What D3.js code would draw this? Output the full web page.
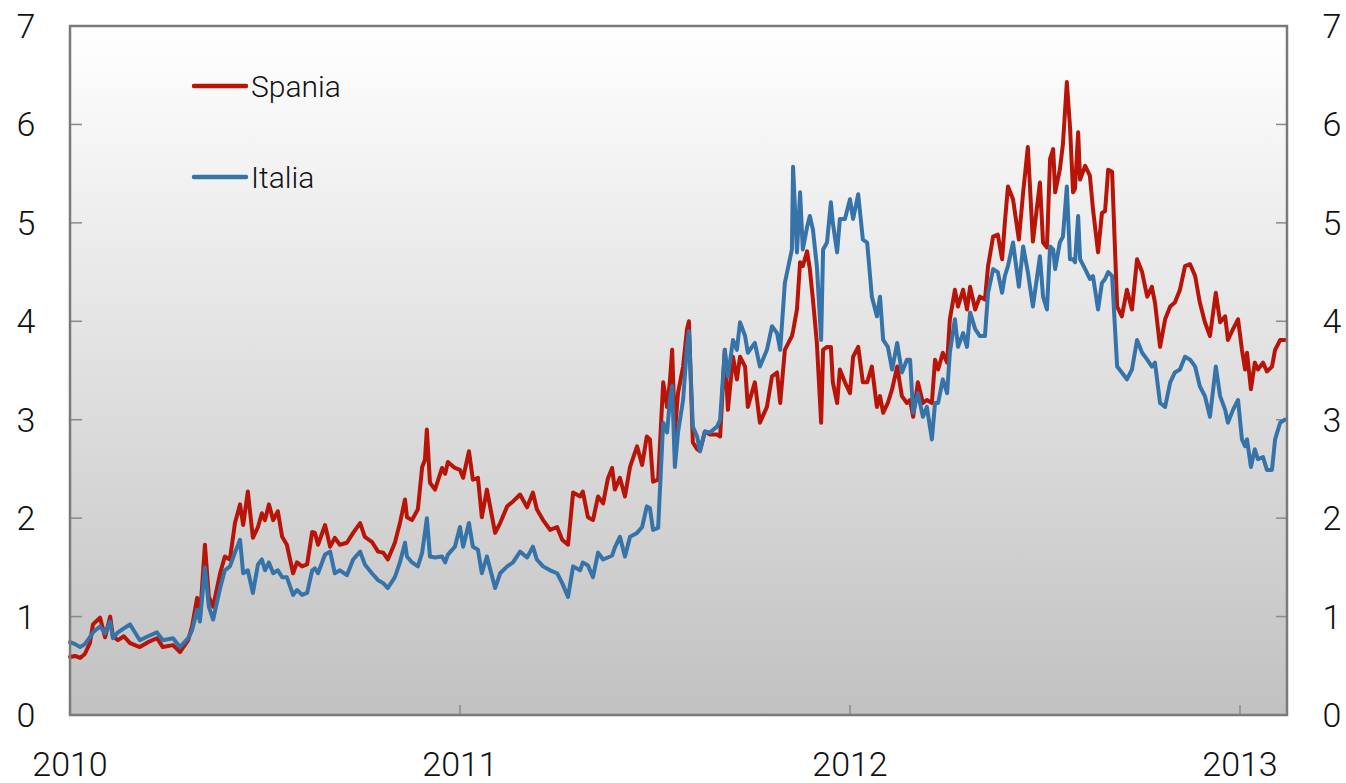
<!DOCTYPE html>
<html>
<head>
<meta charset="utf-8">
<script src="https://cdn.jsdelivr.net/npm/d3@7"></script>
<style>
  html, body { margin: 0; padding: 0; background: #fff; }
  svg { display: block; }
  text { font-family: Roboto, "Liberation Sans", sans-serif; font-weight: 300; fill: #111; }
</style>
</head>
<body>
<svg id="chart" width="1346" height="783"></svg>
<script>
// time as decimal year
const times = [
  2010.000, 2010.013, 2010.026, 2010.038, 2010.051, 2010.059, 2010.077, 2010.090, 2010.103, 2010.110,
  2010.123, 2010.138, 2010.154, 2010.179, 2010.200, 2010.223, 2010.238, 2010.264, 2010.282, 2010.303,
  2010.313, 2010.326, 2010.333, 2010.346, 2010.356, 2010.367, 2010.385, 2010.397, 2010.410, 2010.423,
  2010.436, 2010.444, 2010.456, 2010.469, 2010.482, 2010.492, 2010.500, 2010.510, 2010.521, 2010.533,
  2010.544, 2010.556, 2010.572, 2010.582, 2010.595, 2010.608, 2010.621, 2010.628, 2010.636, 2010.654,
  2010.667, 2010.679, 2010.692, 2010.710, 2010.726, 2010.744, 2010.756, 2010.774, 2010.790, 2010.803,
  2010.815, 2010.833, 2010.846, 2010.859, 2010.864, 2010.877, 2010.892, 2010.903, 2010.910, 2010.915,
  2010.923, 2010.936, 2010.954, 2010.962, 2010.969, 2010.987, 2011.000, 2011.008, 2011.023, 2011.033,
  2011.046, 2011.056, 2011.069, 2011.090, 2011.103, 2011.121, 2011.136, 2011.154, 2011.172, 2011.187,
  2011.197, 2011.213, 2011.231, 2011.249, 2011.262, 2011.277, 2011.290, 2011.308, 2011.315, 2011.328,
  2011.341, 2011.354, 2011.367, 2011.379, 2011.390, 2011.397, 2011.410, 2011.423, 2011.436, 2011.454,
  2011.467, 2011.479, 2011.487, 2011.495, 2011.508, 2011.521, 2011.531, 2011.538, 2011.544, 2011.551,
  2011.559, 2011.572, 2011.582, 2011.587, 2011.597, 2011.608, 2011.615, 2011.628, 2011.641, 2011.659,
  2011.667, 2011.679, 2011.687, 2011.700, 2011.710, 2011.718, 2011.731, 2011.738, 2011.756, 2011.769,
  2011.787, 2011.800, 2011.813, 2011.821, 2011.833, 2011.851, 2011.854, 2011.864, 2011.872, 2011.879,
  2011.890, 2011.897, 2011.905, 2011.915, 2011.926, 2011.931, 2011.941, 2011.951, 2011.956, 2011.967,
  2011.974, 2011.987, 2012.000, 2012.008, 2012.021, 2012.033, 2012.044, 2012.056, 2012.069, 2012.077,
  2012.085, 2012.097, 2012.108, 2012.121, 2012.133, 2012.146, 2012.154, 2012.162, 2012.174, 2012.187,
  2012.197, 2012.210, 2012.218, 2012.226, 2012.238, 2012.249, 2012.256, 2012.269, 2012.277, 2012.290,
  2012.300, 2012.308, 2012.321, 2012.333, 2012.346, 2012.354, 2012.367, 2012.379, 2012.390, 2012.397,
  2012.405, 2012.418, 2012.433, 2012.444, 2012.456, 2012.469, 2012.487, 2012.495, 2012.505, 2012.513,
  2012.521, 2012.526, 2012.538, 2012.546, 2012.556, 2012.564, 2012.572, 2012.577, 2012.585, 2012.590,
  2012.603, 2012.615, 2012.623, 2012.636, 2012.646, 2012.654, 2012.662, 2012.672, 2012.685, 2012.697,
  2012.710, 2012.723, 2012.736, 2012.749, 2012.762, 2012.774, 2012.782, 2012.795, 2012.808, 2012.821,
  2012.833, 2012.846, 2012.859, 2012.872, 2012.885, 2012.897, 2012.910, 2012.923, 2012.938, 2012.949,
  2012.962, 2012.969, 2012.982, 2012.995, 2013.005, 2013.013, 2013.018, 2013.028, 2013.038, 2013.046,
  2013.059, 2013.069, 2013.082, 2013.090, 2013.103, 2013.115
];

const spania = [
  0.59, 0.60, 0.58, 0.62, 0.73, 0.92, 0.99, 0.79, 1.00, 0.80,
  0.76, 0.80, 0.73, 0.69, 0.74, 0.78, 0.69, 0.71, 0.64, 0.76,
  0.90, 1.19, 0.98, 1.73, 1.20, 1.10, 1.44, 1.61, 1.58, 1.95,
  2.14, 1.93, 2.27, 1.80, 1.91, 2.05, 1.98, 2.14, 1.98, 2.07,
  1.81, 1.73, 1.44, 1.55, 1.51, 1.53, 1.86, 1.85, 1.73, 1.93,
  1.71, 1.80, 1.73, 1.75, 1.85, 1.95, 1.81, 1.76, 1.66, 1.65,
  1.58, 1.75, 1.95, 2.19, 2.01, 1.98, 2.09, 2.52, 2.59, 2.90,
  2.36, 2.29, 2.51, 2.45, 2.57, 2.51, 2.49, 2.41, 2.68, 2.39,
  2.41, 2.01, 2.29, 1.85, 1.95, 2.12, 2.17, 2.24, 2.11, 2.26,
  2.09, 1.98, 1.88, 1.91, 1.78, 1.73, 2.26, 2.22, 2.27, 2.01,
  1.98, 2.22, 2.15, 2.40, 2.51, 2.29, 2.41, 2.22, 2.52, 2.73,
  2.54, 2.83, 2.80, 2.37, 2.39, 3.38, 3.13, 3.38, 3.71, 2.87,
  3.27, 3.54, 3.92, 4.00, 2.77, 2.70, 2.68, 2.88, 2.85, 2.85,
  2.83, 3.71, 3.10, 3.64, 3.41, 3.64, 3.54, 3.13, 3.38, 2.97,
  3.13, 3.44, 3.48, 3.17, 3.71, 3.85, 3.90, 4.12, 4.60, 4.56,
  4.71, 4.53, 4.22, 3.78, 2.97, 3.71, 3.74, 3.74, 3.38, 3.17,
  3.51, 3.38, 3.27, 3.64, 3.74, 3.38, 3.38, 3.54, 3.13, 3.24,
  3.07, 3.17, 3.31, 3.54, 3.24, 3.17, 3.20, 3.03, 3.38, 3.17,
  3.20, 3.17, 3.61, 3.51, 3.68, 3.58, 4.02, 4.32, 4.15, 4.32,
  4.12, 4.35, 4.12, 4.25, 4.22, 4.56, 4.86, 4.88, 4.63, 5.00,
  5.37, 5.24, 4.83, 5.31, 5.77, 4.81, 5.41, 4.80, 4.75, 5.65,
  5.75, 5.31, 5.54, 5.80, 6.43, 5.98, 5.31, 5.35, 5.92, 5.44,
  5.58, 5.48, 5.14, 4.70, 5.10, 5.12, 5.54, 5.52, 4.15, 4.05,
  4.32, 4.12, 4.63, 4.50, 4.25, 4.35, 4.19, 3.74, 4.02, 4.15,
  4.19, 4.32, 4.56, 4.58, 4.46, 4.19, 3.99, 3.85, 4.29, 3.99,
  4.05, 3.81, 3.92, 4.02, 3.71, 3.51, 3.68, 3.31, 3.58, 3.51,
  3.58, 3.49, 3.54, 3.71, 3.81, 3.81
];

const italia = [
  0.74, 0.72, 0.69, 0.72, 0.79, 0.84, 0.90, 0.83, 0.95, 0.78,
  0.84, 0.88, 0.92, 0.76, 0.80, 0.84, 0.76, 0.78, 0.69, 0.78,
  0.86, 1.07, 0.95, 1.50, 1.10, 0.97, 1.29, 1.47, 1.51, 1.65,
  1.78, 1.44, 1.47, 1.24, 1.53, 1.58, 1.47, 1.55, 1.44, 1.47,
  1.40, 1.40, 1.22, 1.27, 1.22, 1.24, 1.47, 1.49, 1.44, 1.63,
  1.66, 1.44, 1.47, 1.42, 1.58, 1.66, 1.53, 1.44, 1.37, 1.34,
  1.29, 1.40, 1.55, 1.75, 1.61, 1.55, 1.51, 1.65, 1.85, 2.00,
  1.61, 1.60, 1.61, 1.55, 1.63, 1.71, 1.91, 1.71, 1.95, 1.71,
  1.68, 1.44, 1.61, 1.29, 1.44, 1.51, 1.55, 1.66, 1.60, 1.71,
  1.58, 1.51, 1.47, 1.44, 1.34, 1.20, 1.51, 1.47, 1.55, 1.52,
  1.40, 1.65, 1.58, 1.60, 1.62, 1.70, 1.81, 1.61, 1.81, 1.85,
  1.91, 2.12, 2.10, 1.88, 1.90, 2.97, 2.87, 3.20, 3.34, 2.52,
  2.87, 3.20, 3.74, 3.90, 2.93, 2.83, 2.68, 2.88, 2.87, 2.93,
  3.00, 3.71, 3.44, 3.81, 3.71, 3.99, 3.85, 3.68, 3.78, 3.54,
  3.71, 3.95, 3.88, 3.71, 4.39, 4.73, 5.57, 4.70, 5.31, 4.73,
  4.96, 5.07, 4.93, 4.56, 3.81, 4.73, 4.80, 5.21, 5.00, 4.70,
  5.04, 5.04, 5.24, 5.04, 5.29, 4.83, 4.80, 4.25, 4.05, 4.25,
  3.81, 3.74, 3.51, 3.78, 3.48, 3.61, 3.61, 3.07, 3.27, 3.03,
  3.13, 2.80, 3.17, 3.17, 3.41, 3.27, 3.68, 4.02, 3.74, 3.88,
  3.74, 4.09, 3.92, 3.85, 3.85, 4.29, 4.53, 4.50, 4.29, 4.46,
  4.56, 4.80, 4.35, 4.76, 4.50, 4.15, 4.66, 4.25, 4.12, 4.76,
  4.73, 4.53, 4.80, 4.86, 5.37, 4.63, 4.63, 4.60, 5.07, 4.63,
  4.53, 4.43, 4.46, 4.12, 4.39, 4.43, 4.50, 4.46, 3.54, 3.48,
  3.41, 3.51, 3.81, 3.68, 3.61, 3.54, 3.58, 3.17, 3.13, 3.38,
  3.48, 3.51, 3.64, 3.61, 3.54, 3.34, 3.24, 3.03, 3.54, 3.24,
  3.10, 2.97, 3.10, 3.20, 2.80, 2.73, 2.80, 2.52, 2.70, 2.60,
  2.62, 2.49, 2.49, 2.80, 2.97, 3.00
];

const yTicks = [0, 1, 2, 3, 4, 5, 6, 7];
const xTicks = [2010, 2011, 2012, 2013];
const seriesNames = ["Spania", "Italia"];
const seriesColors = ["#b81408", "#3573a9"];

const svg = d3.select("#chart");
const plotL = 70, plotR = 1287, plotT = 26, plotB = 715;

const x = d3.scaleLinear().domain([2010, 2013.1205]).range([plotL, plotR]);
const y = d3.scaleLinear().domain([0, 7]).range([plotB, plotT]);

// background gradient
const defs = svg.append("defs");
const grad = defs.append("linearGradient").attr("id", "bg").attr("x1", 0).attr("y1", 0).attr("x2", 0).attr("y2", 1);
grad.append("stop").attr("offset", "0%").attr("stop-color", "#ffffff");
grad.append("stop").attr("offset", "100%").attr("stop-color", "#c1c1c1");

svg.append("rect")
  .attr("x", plotL).attr("y", plotT)
  .attr("width", plotR - plotL).attr("height", plotB - plotT)
  .attr("fill", "url(#bg)");

// tick marks inside the frame
const tickCol = "#8a8a8a";
svg.append("g").selectAll("line").data(yTicks.slice(1, -1)).join("line")
  .attr("x1", plotL).attr("x2", plotL + 12)
  .attr("y1", d => y(d)).attr("y2", d => y(d))
  .attr("stroke", tickCol).attr("stroke-width", 1.5);
svg.append("g").selectAll("line").data(yTicks.slice(1, -1)).join("line")
  .attr("x1", plotR - 11).attr("x2", plotR)
  .attr("y1", d => y(d)).attr("y2", d => y(d))
  .attr("stroke", tickCol).attr("stroke-width", 1.5);
svg.append("g").selectAll("line").data(xTicks.slice(1)).join("line")
  .attr("x1", d => x(d)).attr("x2", d => x(d))
  .attr("y1", plotB).attr("y2", plotB - 10)
  .attr("stroke", tickCol).attr("stroke-width", 1.5);

// lines
const line = d3.line().x((d, i) => x(times[i])).y(d => y(d));
[spania, italia].forEach((vals, k) => {
  svg.append("path").datum(vals)
    .attr("d", line)
    .attr("fill", "none")
    .attr("stroke", seriesColors[k])
    .attr("stroke-width", 4)
    .attr("stroke-linejoin", "round")
    .attr("stroke-linecap", "round");
});

// frame
svg.append("rect")
  .attr("x", plotL).attr("y", plotT)
  .attr("width", plotR - plotL).attr("height", plotB - plotT)
  .attr("fill", "none").attr("stroke", "#7a7a7a").attr("stroke-width", 2.5);

// y labels both sides
svg.append("g").selectAll("text").data(yTicks).join("text")
  .attr("x", 26).attr("y", d => y(d))
  .attr("text-anchor", "middle").attr("dominant-baseline", "central")
  .style("font-size", "34px")
  .text(d => d);
svg.append("g").selectAll("text").data(yTicks).join("text")
  .attr("x", 1332).attr("y", d => y(d))
  .attr("text-anchor", "middle").attr("dominant-baseline", "central")
  .style("font-size", "34px")
  .text(d => d);

// x labels
svg.append("g").selectAll("text").data(xTicks).join("text")
  .attr("x", d => x(d)).attr("y", 776)
  .attr("text-anchor", "middle")
  .style("font-size", "34px")
  .text(d => d);

// legend
const legendY = [86, 177];
seriesNames.forEach((name, k) => {
  svg.append("line")
    .attr("x1", 194).attr("x2", 246)
    .attr("y1", legendY[k]).attr("y2", legendY[k])
    .attr("stroke", seriesColors[k]).attr("stroke-width", 4.5)
    .attr("stroke-linecap", "round");
  svg.append("text")
    .attr("x", 251).attr("y", legendY[k])
    .attr("dominant-baseline", "central")
    .style("font-size", "30px")
    .text(name);
});
</script>
</body>
</html>
